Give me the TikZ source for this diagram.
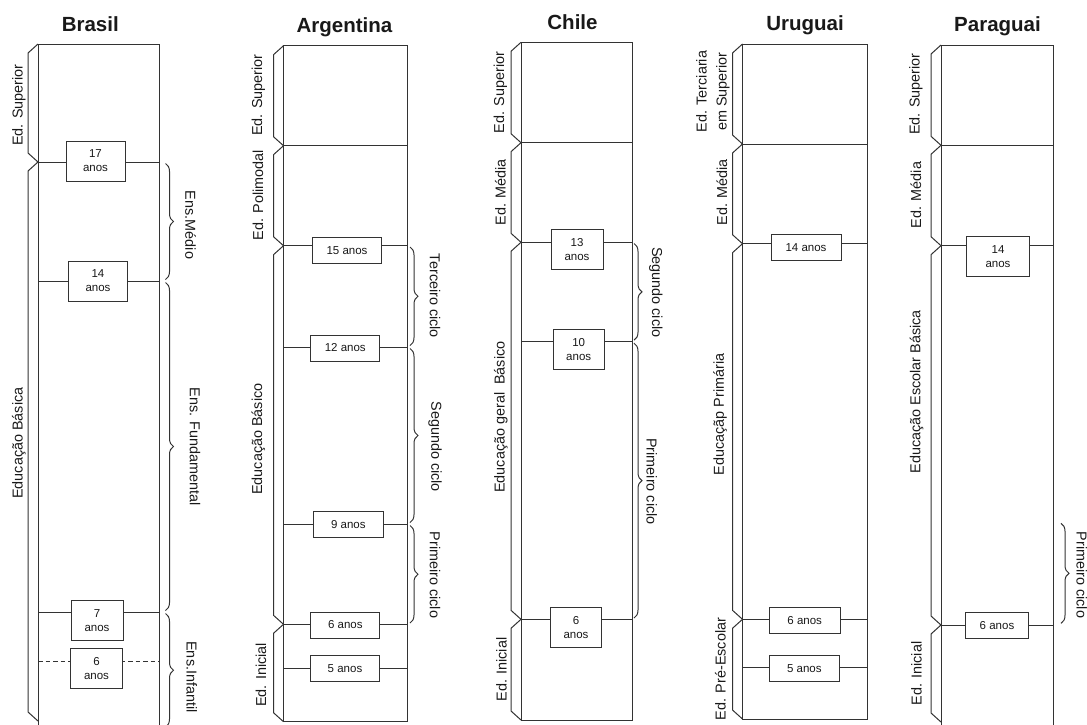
\documentclass[tikz,border=0pt]{standalone}
\usepackage{fontspec}
\setmainfont{Liberation Sans}
\usetikzlibrary{decorations.pathreplacing}
\newcommand\agefont{\fontsize{11.5}{14}\selectfont}
\newcommand\labfont{\fontsize{14.4}{20}\selectfont}
\newcommand\ttlfont{\fontsize{20.5}{24}\selectfont\bfseries}
\newcommand\lbr[3]{\draw[ln] (#1,#2) -- (#1-10,#2+9) -- (#1-10,#3-9) -- (#1,#3);}
\tikzset{
  ln/.style={draw=black!80, line width=1pt},
  agebox/.style={draw=black!80, line width=1pt, fill=white, inner sep=0pt, align=center, font=\agefont, text=black!90},
  sidelab/.style={rotate=90, font=\labfont, inner sep=0pt, align=center, text=black!90},
  bracelab/.style={rotate=-90, font=\labfont, inner sep=0pt, text=black!90},
  ttl/.style={font=\ttlfont, anchor=base, inner sep=0pt, text=black!90},
  brc/.style={ln, decorate, decoration={brace, amplitude=8pt}},
}
\begin{document}
\begin{tikzpicture}[x=1pt,y=-1pt]
\useasboundingbox (0,0) rectangle (1087,724);

% ---------------- Brasil ----------------
\node[ttl] (tbr) at (90.3,31.7) {Brasil};
\draw[ln] (38,44) rectangle (159,728);
\draw[ln] (38,162) -- (159,162);
\draw[ln] (38,281) -- (159,281);
\draw[ln] (38,612) -- (159,612);
\draw[ln, dash pattern=on 4.5pt off 3pt] (38,661) -- (159,661);
\node[agebox, minimum width=59pt, minimum height=40pt] (br17) at (95.5,161) {17\\anos};
\node[agebox, minimum width=59pt, minimum height=40pt] (br14) at (98,281) {14\\anos};
\node[agebox, minimum width=52pt, minimum height=40pt] (br7) at (97,620.7) {7\\anos};
\node[agebox, minimum width=52pt, minimum height=40pt] (br6) at (96.5,668.3) {6\\anos};
\lbr{38}{44}{162}
\lbr{38}{162}{721}
\node[sidelab] (brsup) at (18.8,105) {Ed. Superior};
\node[sidelab] (brbas) at (18.8,443) {Educação Básica};
\draw[brc] (165.5,163.5) -- (165.5,279.5);
\draw[brc] (165.5,282.5) -- (165.5,610.5);
\draw[brc] (165.5,613.5) -- (165.5,727);
\node[bracelab] (brmed) at (190.7,225) {Ens.Médio};
\node[bracelab] (brfun) at (195,446.5) {Ens. Fundamental};
\node[bracelab] (brinf) at (191.7,677) {Ens.Infantil};

% ---------------- Argentina ----------------
\node[ttl] (tar) at (344.5,32) {Argentina};
\draw[ln] (283.5,45.7) rectangle (407.5,721.7);
\foreach \yy in {145.7,245.7,347,524,624.3,668.3}
  \draw[ln] (283.5,\yy) -- (407.5,\yy);
\node[agebox, minimum width=69pt, minimum height=26pt] (ar15) at (347,250.3) {15 anos};
\node[agebox, minimum width=69pt, minimum height=26pt] (ar12) at (345.3,348) {12 anos};
\node[agebox, minimum width=70pt, minimum height=26pt] (ar9) at (348.3,524.5) {9 anos};
\node[agebox, minimum width=69pt, minimum height=26pt] (ar6) at (345.3,625) {6 anos};
\node[agebox, minimum width=69pt, minimum height=26pt] (ar5) at (345,668.8) {5 anos};
\lbr{283.5}{45.7}{145.7}
\lbr{283.5}{145.7}{245.7}
\lbr{283.5}{245.7}{624.3}
\lbr{283.5}{624.3}{721.7}
\node[sidelab] (arsup) at (258.3,95) {Ed. Superior};
\node[sidelab] (arpol) at (258,195) {Ed. Polimodal};
\node[sidelab] (arbas) at (258.3,439) {Educação Básico};
\node[sidelab] (arini) at (261,675) {Ed. Inicial};
\draw[brc] (410,247) -- (410,345.5);
\draw[brc] (410,348.5) -- (410,522.5);
\draw[brc] (410,525.5) -- (410,623);
\node[bracelab] (arter) at (435,296) {Terceiro ciclo};
\node[bracelab] (arseg) at (435,446.7) {Segundo ciclo};
\node[bracelab] (arpri) at (435,575) {Primeiro ciclo};

% ---------------- Chile ----------------
\node[ttl] (tch) at (572.5,29.3) {Chile};
\draw[ln] (521,42.3) rectangle (632,720);
\foreach \yy in {142.7,242.3,341.7,619.3}
  \draw[ln] (521,\yy) -- (632,\yy);
\node[agebox, minimum width=52pt, minimum height=40.5pt] (ch13) at (577,249.7) {13\\anos};
\node[agebox, minimum width=51pt, minimum height=40.5pt] (ch10) at (578.7,349.7) {10\\anos};
\node[agebox, minimum width=50.5pt, minimum height=40.5pt] (ch6) at (576,627.5) {6\\anos};
\lbr{521}{42.3}{142.7}
\lbr{521}{142.7}{242.3}
\lbr{521}{242.3}{619.3}
\lbr{521}{619.3}{720}
\node[sidelab] (chsup) at (500.5,92.5) {Ed. Superior};
\node[sidelab] (chmed) at (500.5,192.5) {Ed. Média};
\node[sidelab] (chbas) at (500.8,417) {Educação geral\ \ Básico};
\node[sidelab] (chini) at (501.5,669.5) {Ed. Inicial};
\draw[brc] (634,243.5) -- (634,340.2);
\draw[brc] (634,343.2) -- (634,618);
\node[bracelab] (chseg) at (655.8,292.3) {Segundo ciclo};
\node[bracelab] (chpri) at (651.7,481.5) {Primeiro ciclo};

% ---------------- Uruguai ----------------
\node[ttl] (tur) at (805,30.7) {Uruguai};
\draw[ln] (742.5,44) rectangle (867.5,719);
\foreach \yy in {144,243.7,619.3,667.7}
  \draw[ln] (742.5,\yy) -- (867.5,\yy);
\node[agebox, minimum width=70pt, minimum height=25.5pt] (ur14) at (806,247.3) {14 anos};
\node[agebox, minimum width=70.7pt, minimum height=26.3pt] (ur6) at (804.7,620.8) {6 anos};
\node[agebox, minimum width=70pt, minimum height=25.7pt] (ur5) at (804.3,668.2) {5 anos};
\lbr{742.5}{44}{144}
\lbr{742.5}{144}{243.7}
\lbr{742.5}{243.7}{619.3}
\lbr{742.5}{619.3}{719}
\node[sidelab] (ursup) at (713,91.5) {Ed. Terciaria\\em Superior};
\node[sidelab] (urmed) at (722,192.5) {Ed. Média};
\node[sidelab] (urpri) at (720,414.5) {Educaçãp Primária};
\node[sidelab] (urpre) at (720.5,669) {Ed. Pré-Escolar};

% ---------------- Paraguai ----------------
\node[ttl] (tpa) at (997.5,31.7) {Paraguai};
\draw[ln] (941,45) rectangle (1053,728);
\foreach \yy in {145.3,245.7,625}
  \draw[ln] (941,\yy) -- (1053,\yy);
\node[agebox, minimum width=62.6pt, minimum height=40pt] (pa14) at (998,256.7) {14\\anos};
\node[agebox, minimum width=62.6pt, minimum height=25.6pt] (pa6) at (997,625.5) {6 anos};
\lbr{941}{45}{145.3}
\lbr{941}{145.3}{245.7}
\lbr{941}{245.7}{625}
\lbr{941}{625}{722}
\node[sidelab] (pasup) at (916,94) {Ed. Superior};
\node[sidelab] (pamed) at (916,195) {Ed. Média};
\node[sidelab] (pabas) at (916.5,391.7) {Educação Escolar Básica};
\node[sidelab] (paini) at (916.5,673.5) {Ed. Inicial};
\draw[brc] (1061,523.3) -- (1061,623.3);
\node[bracelab] (papri) at (1081.7,575) {Primeiro ciclo};
\end{tikzpicture}
\end{document}
